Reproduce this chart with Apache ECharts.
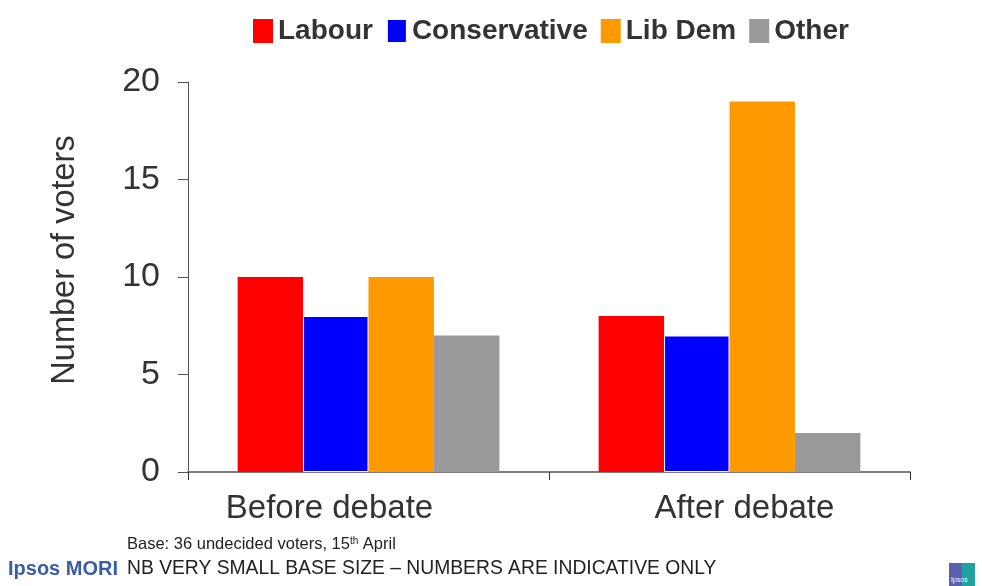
<!DOCTYPE html>
<html><head><meta charset="utf-8">
<script src="https://cdn.jsdelivr.net/npm/echarts@6/dist/echarts.min.js"></script>
<style>html,body{margin:0;padding:0;background:#fff}#c{width:982px;height:586px}</style>
</head><body><div id="c"></div>
<script>
const categories = ['Before debate', 'After debate'];
const labour = [10, 8];
const conservative = [8, 7];
const libDem = [10, 19];
const other = [7, 2];
const seriesNames = ['Labour', 'Conservative', 'Lib Dem', 'Other'];
const colors = ['#ff0000', '#0000ff', '#ff9900', '#999999'];
const yTicks = [0, 5, 10, 15, 20];

const chart = echarts.init(document.getElementById('c'), null, {renderer: 'canvas'});
const dataSets = [labour, conservative, libDem, other];
const font = '"Liberation Sans", Arial, sans-serif';
chart.setOption({
  animation: false,
  backgroundColor: '#fff',
  legend: {
    top: 12, left: 248, itemWidth: 20, itemHeight: 24, itemGap: 13,
    icon: 'rect',
    textStyle: {fontFamily: font, fontWeight: 'bold', fontSize: 28, color: '#333'},
    data: seriesNames
  },
  grid: {left: 188, right: 72, top: 82, bottom: 114, containLabel: false},
  xAxis: {
    type: 'category', data: categories,
    axisLine: {lineStyle: {color: '#7f7f7f', width: 2}},
    axisTick: {show: true, length: 8, lineStyle: {color: '#333', width: 1}},
    axisLabel: {
      margin: 20,
      formatter: (v, i) => (i === 0 ? '{a|' : '{b|') + v + '}',
      rich: {
        a: {fontFamily: font, fontSize: 33, color: '#333', padding: [0, 78, 0, 0]},
        b: {fontFamily: font, fontSize: 33, color: '#333', padding: [0, 0, 0, 30]}
      }
    }
  },
  yAxis: {
    type: 'value', min: yTicks[0], max: yTicks[yTicks.length - 1], interval: 5,
    axisLine: {show: true, lineStyle: {color: '#555', width: 1}},
    axisTick: {show: true, length: 10, lineStyle: {color: '#555'}},
    splitLine: {show: false},
    axisLabel: {fontFamily: font, fontSize: 34, color: '#333', margin: 28}
  },
  series: seriesNames.map((n, i) => ({
    name: n, type: 'bar', data: dataSets[i],
    barGap: '0%', barCategoryGap: '27.5%',
    itemStyle: {color: colors[i], borderColor: '#fff', borderWidth: i === 1 ? 1 : 0}
  })),
  graphic: [
    {type: 'text', x: 65, y: 260, rotation: Math.PI / 2, style: {
      text: 'Number of voters', fontFamily: font, fontSize: 32.5, fill: '#333', align: 'center', verticalAlign: 'middle'}},
    {type: 'text', left: 127, top: 536, style: {
      text: '{a|Base: 36 undecided voters, 15}{s|th}{a| April}',
      rich: {a: {fontFamily: font, fontSize: 16.5, fill: '#222'}, s: {fontFamily: font, fontSize: 10, fill: '#222', verticalAlign: 'top', padding: [0,0,7,0]}}
    }},
    {type: 'text', left: 8, top: 559, style: {text: 'Ipsos MORI', fontFamily: font, fontWeight: 'bold', fontSize: 20, fill: '#3a5ba8'}},
    {type: 'text', left: 127, top: 559, style: {text: 'NB VERY SMALL BASE SIZE – NUMBERS ARE INDICATIVE ONLY', fontFamily: font, fontSize: 19.3, fill: '#222'}},
    {type: 'rect', left: 949, top: 563, shape: {width: 13, height: 23}, style: {fill: '#5a5fb0'}},
    {type: 'rect', left: 962, top: 563, shape: {width: 13, height: 23}, style: {fill: '#20a0a0'}},
    {type: 'text', left: 951, top: 577, style: {text: 'Ipsos', fontFamily: font, fontSize: 7, fill: '#fff'}}
  ]
});
</script></body></html>
